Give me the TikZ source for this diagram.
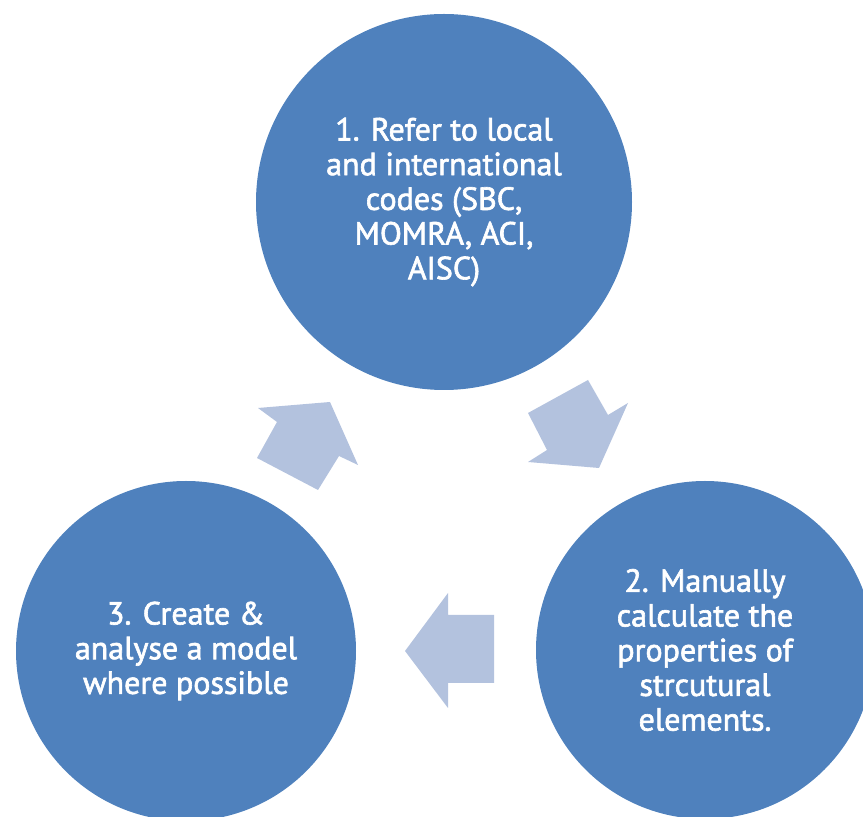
\documentclass[tikz,border=0pt]{standalone}
\usepackage{fontspec}
\setmainfont{PT Sans}[FakeBold=2]
\definecolor{stageblue}{HTML}{4F81BD}
\definecolor{flowblue}{HTML}{B3C2DE}
\begin{document}
\begin{tikzpicture}[x=1pt,y=1pt,
  stage/.style={circle, fill=stageblue, text=white, align=center, inner sep=0pt,
    font=\fontsize{32}{34.7}\selectfont},
  flow/.style={fill=flowblue}]
\useasboundingbox (0,0) rectangle (863,817);
\clip (0,0) rectangle (863,817);

% three process stages
\node[stage, minimum size=376pt] (s1) at (444,615)
  {1. Refer to local\\and international\\codes (SBC,\\MOMRA, ACI,\\AISC)};
\node[stage, minimum size=338pt] (s2) at (705,167)
  {2. Manually\\calculate the\\properties of\\strcutural\\elements.};
\node[stage, minimum size=340pt] (s3) at (186,166)
  {3. Create \&\\analyse a model\\where possible};

% block arrows of the cycle
\fill[flow] (528,404) -- (588,437) -- (608,402) -- (628,414) -- (599,349) -- (528,355) -- (547,367) -- cycle;
\fill[flow] (405,166) -- (448,224) -- (448,202) -- (494,202) -- (494,134) -- (448,134) -- (448,109) -- cycle;
\fill[flow] (257,359) -- (277,395) -- (258,409) -- (330,415) -- (358,352) -- (339,361) -- (318,327) -- cycle;
\end{tikzpicture}
\end{document}
